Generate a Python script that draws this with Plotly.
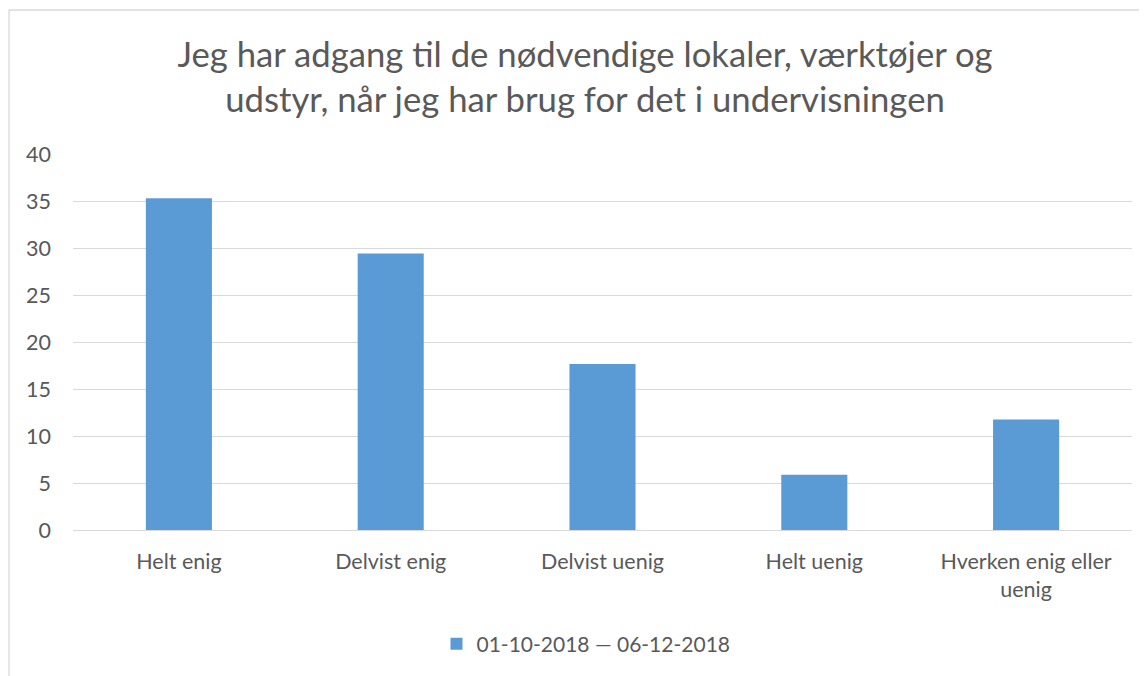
import plotly.graph_objects as go

categories = ["Helt enig", "Delvist enig", "Delvist uenig", "Helt uenig", "Hverken enig eller<br>uenig"]
values = [35.29, 29.41, 17.65, 5.88, 11.76]
series_name = "01-10-2018 — 06-12-2018"
title_text = "Jeg har adgang til de nødvendige lokaler, værktøjer og<br>udstyr, når jeg har brug for det i undervisningen"

# the page body adds an 8px offset, so layout is expressed in figure pixels
W, H = 1147, 676
OFF = 8
L, R, T, B = 73 - OFF, W - (1132 - OFF), 154 - OFF, 154
pw, ph = W - L - R, H - T - B

font_family = "Lato, 'Open Sans', sans-serif"
text_color = "#595959"

fig = go.Figure()
fig.add_trace(
    go.Bar(
        x=categories,
        y=values,
        name=series_name,
        marker=dict(color="#5B9BD5", line=dict(width=0)),
        width=0.312,
    )
)

fig.update_layout(
    width=W,
    height=H,
    margin=dict(l=L, r=R, t=T, b=B),
    paper_bgcolor="white",
    plot_bgcolor="white",
    font=dict(family=font_family, color=text_color, size=21.5),
    title=dict(
        text=title_text,
        x=577 / W,
        xref="container",
        xanchor="center",
        y=1 - 59 / H,
        yref="container",
        yanchor="middle",
        font=dict(size=34.7, color=text_color, family=font_family),
    ),
    showlegend=True,
    legend=dict(
        orientation="h",
        x=578 / W,
        xref="container",
        xanchor="center",
        y=1 - (644 - OFF) / H,
        yref="container",
        yanchor="middle",
        font=dict(size=21, color=text_color),
    ),
    bargap=0.6,
)

fig.update_yaxes(
    range=[0, 40],
    dtick=5,
    showgrid=True,
    gridcolor="#D9D9D9",
    gridwidth=1.3,
    zeroline=False,
    showline=False,
    ticks="",
    ticklabelstandoff=21,
    tickfont=dict(size=21.5, color=text_color),
)
fig.update_xaxes(
    showline=True,
    linecolor="#D9D9D9",
    linewidth=1.3,
    ticks="",
    ticklabelstandoff=12,
    tickfont=dict(size=21.5, color=text_color),
)

# chart-area border (left and top visible in the reference)
fig.add_shape(
    type="rect",
    xref="paper", yref="paper",
    x0=(1 - L) / pw, x1=(W + 20 - L) / pw,
    y0=-(H + 20 - T - ph) / ph, y1=1 + (T - 2) / ph,
    line=dict(color="#D9D9D9", width=1.3),
    fillcolor="rgba(0,0,0,0)",
    layer="below",
)

fig.write_html("out.html")
